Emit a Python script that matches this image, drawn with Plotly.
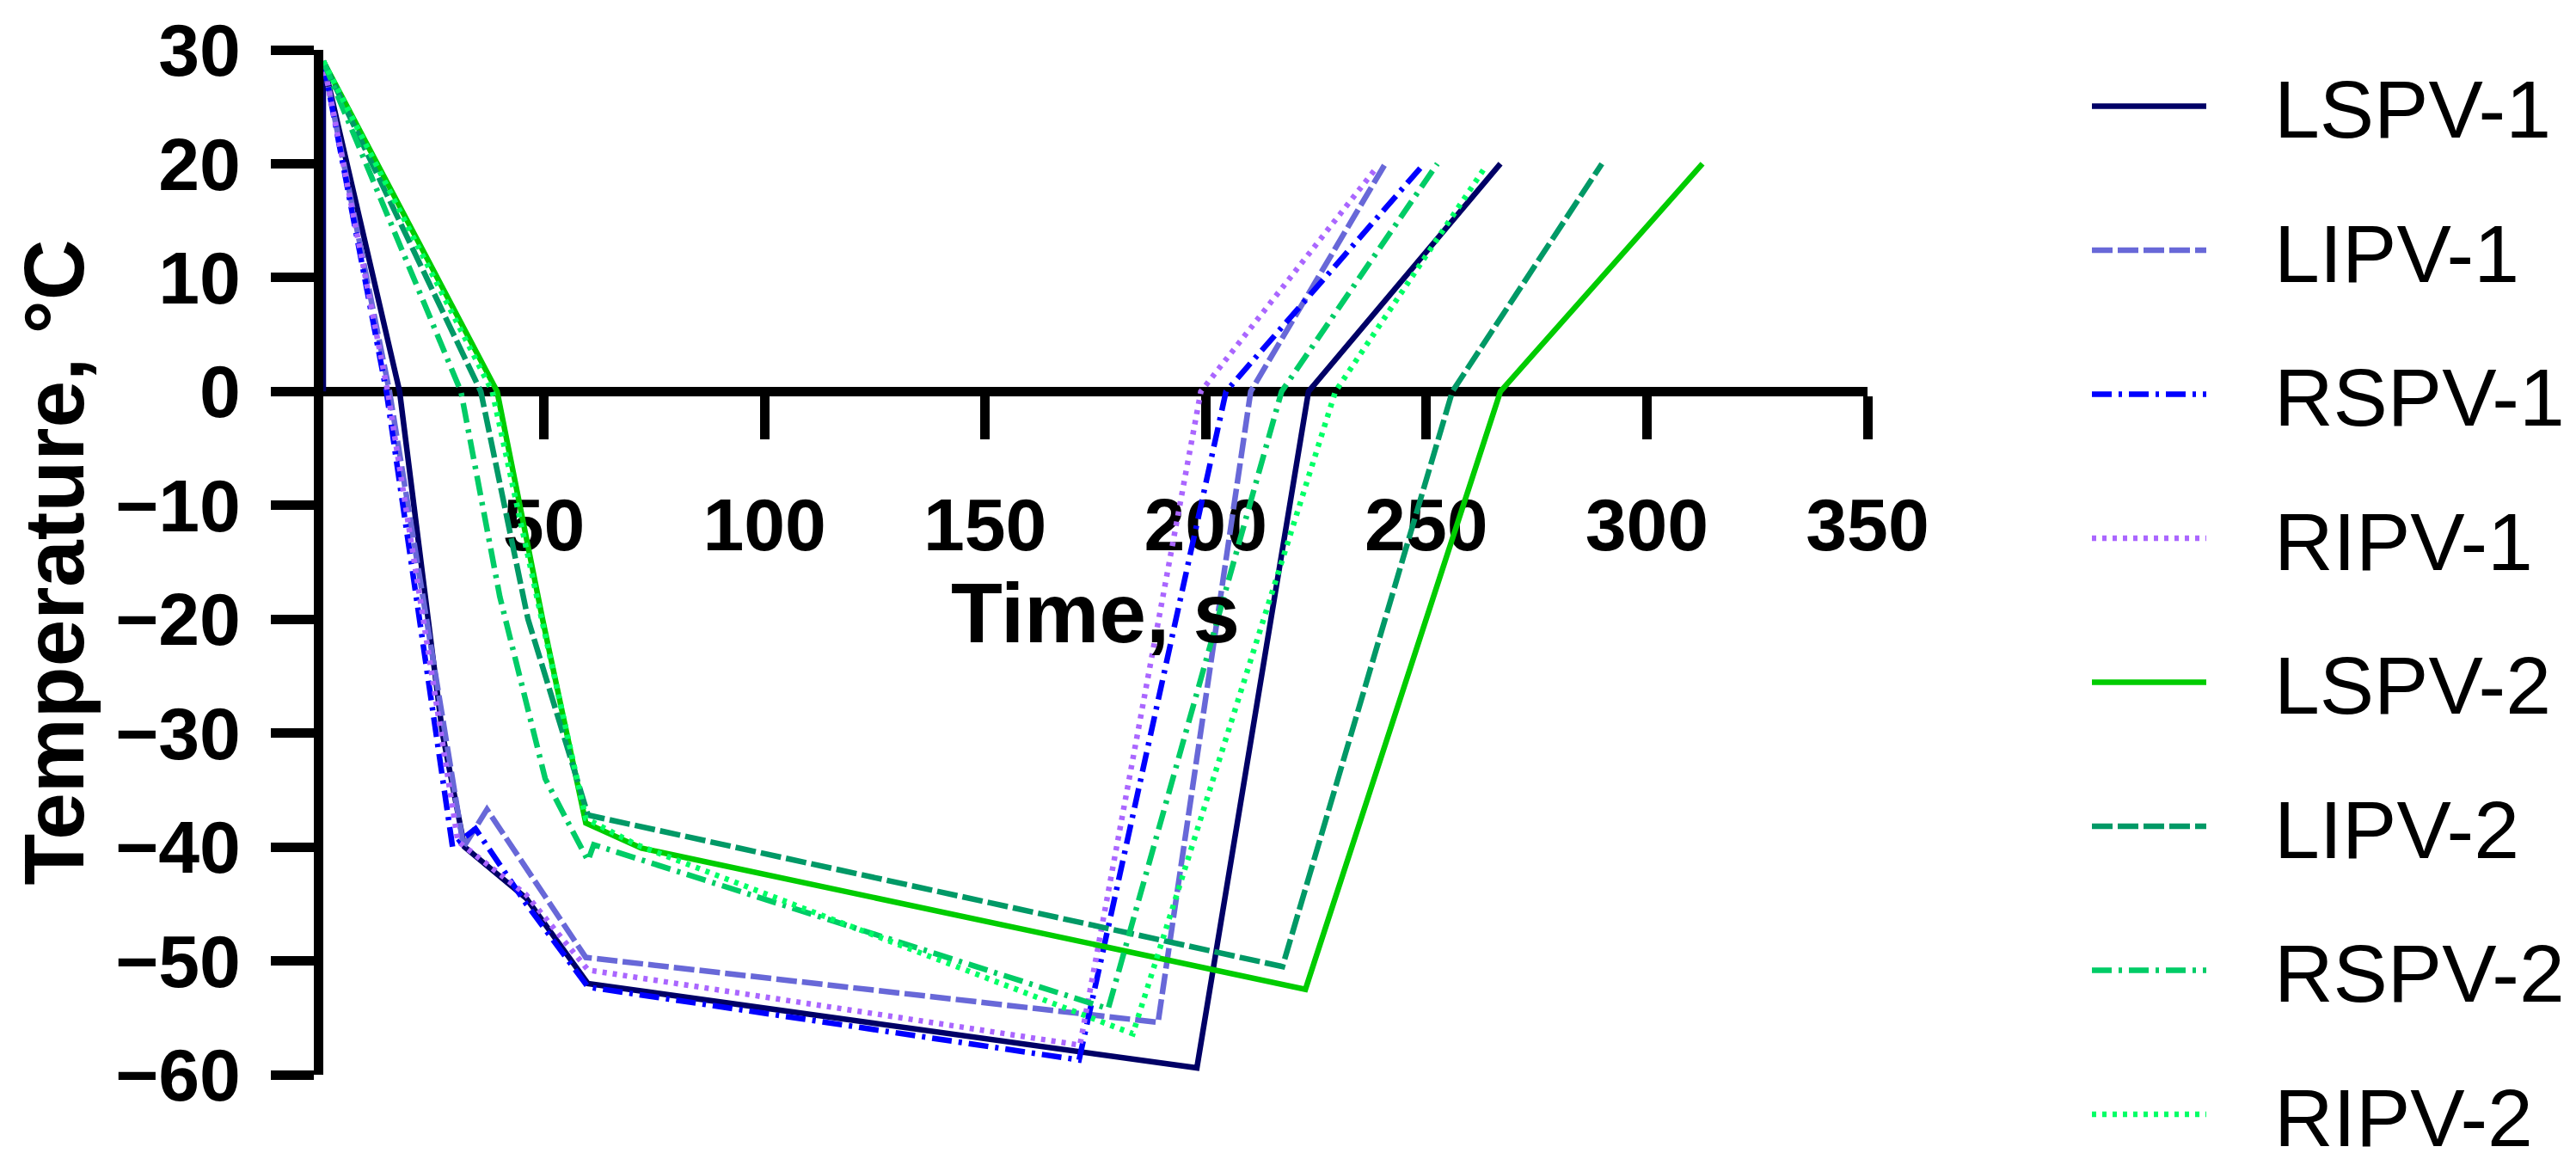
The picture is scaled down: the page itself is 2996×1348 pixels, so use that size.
import plotly.graph_objects as go

# Temperature curves (time in s, temperature in °C)
lspv1_t = [0, 0, 17.3, 27, 32, 46, 60, 198, 223.3, 266.8]
lspv1_T = [0, 29, 0, -30, -40, -44.5, -52, -59.4, 0, 20]

lipv1_t = [0, 15, 31.8, 37.1, 59.5, 189.2, 210.2, 240.7]
lipv1_T = [29, 0, -40, -36.7, -49.7, -55.4, 0, 20]

rspv1_t = [0, 14.3, 29.3, 34.5, 46, 60, 171.3, 204.6, 249.5]
rspv1_T = [29, 0, -40, -38.4, -45, -52.3, -58.7, 0, 20]

ripv1_t = [0, 14.6, 30.5, 46, 60, 171.5, 198.9, 238.6]
ripv1_T = [29, 0, -39.5, -44.2, -50.8, -57.4, 0, 19.6]

lspv2_t = [0, 39.4, 49.7, 59.5, 72.1, 222.6, 266.8, 312.6]
lspv2_T = [29, 0, -20, -37.9, -40.1, -52.5, 0, 20]

lipv2_t = [0, 35.7, 46.4, 60, 217.4, 255.9, 289.8]
lipv2_T = [29, 0, -20, -37.2, -50.5, 0, 20]

rspv2_t = [0, 31.2, 40, 50.3, 60, 61.3, 177.9, 217.2, 252.5]
rspv2_T = [29, 0, -18, -34, -41.2, -39.8, -54.2, 0, 20]

ripv2_t = [0, 38.3, 49.5, 59.5, 71, 183.5, 229.4, 263]
ripv2_T = [29, 0, -20, -37.5, -39.8, -56.4, 0, 19.5]

x_ticks = [50, 100, 150, 200, 250, 300, 350]
y_ticks = [30, 20, 10, 0, -10, -20, -30, -40, -50, -60]
X_MIN, X_MAX = 0, 350
Y_MIN, Y_MAX = -60, 30

DASH = "24px,6px"
DASHDOT = "23px,8px,4px,8px"
DOT = "5px,7px"

series = [
    ("LSPV-1", lspv1_t, lspv1_T, "#000066", "solid"),
    ("LIPV-1", lipv1_t, lipv1_T, "#6868d8", DASH),
    ("RSPV-1", rspv1_t, rspv1_T, "#0000ff", DASHDOT),
    ("RIPV-1", ripv1_t, ripv1_T, "#aa66ff", DOT),
    ("LSPV-2", lspv2_t, lspv2_T, "#00cc00", "solid"),
    ("LIPV-2", lipv2_t, lipv2_T, "#009966", DASH),
    ("RSPV-2", rspv2_t, rspv2_T, "#00cc66", DASHDOT),
    ("RIPV-2", ripv2_t, ripv2_T, "#00ff66", DOT),
]

FONT = "Liberation Sans, Arial, sans-serif"
# gap between legend line sample and its label
LEGEND_PAD = "\u2002\u00a0"

fig = go.Figure()
for name, t, temp, color, dash in series:
    fig.add_trace(
        go.Scatter(
            x=t,
            y=temp,
            mode="lines",
            name=LEGEND_PAD + name,
            legendgroup=name,
            line=dict(color=color, width=6.5, dash=dash),
        )
    )

axis_style = dict(
    showline=True,
    linewidth=11,
    linecolor="black",
    ticks="outside",
    ticklen=50,
    tickwidth=11,
    tickcolor="black",
    showgrid=False,
    zeroline=False,
    automargin=False,
    layer="below traces",
    ticklabeloverflow="allow",
    tickfont=dict(family=FONT, size=86, color="black", weight="bold"),
)

fig.update_layout(
    width=2996,
    height=1348,
    margin=dict(l=368, r=832, t=50, b=106),
    plot_bgcolor="white",
    paper_bgcolor="white",
    xaxis=dict(
        range=[X_MIN, X_MAX],
        tickvals=x_ticks,
        anchor="free",
        # x axis crosses the y axis at 0 °C
        position=(0 - Y_MIN) / (Y_MAX - Y_MIN),
        ticklabelstandoff=25,
        title=dict(
            text="Time, s",
            font=dict(family=FONT, size=98, color="black", weight="bold"),
            standoff=12,
        ),
        **axis_style,
    ),
    yaxis=dict(
        range=[Y_MIN, Y_MAX],
        tickvals=y_ticks,
        ticklabelstandoff=18,
        title=dict(
            text="Temperature, °C",
            font=dict(family=FONT, size=98, color="black", weight="bold"),
            standoff=25,
        ),
        **axis_style,
    ),
    legend=dict(
        xref="container",
        yref="container",
        x=2420 / 2996,
        y=0.965,
        xanchor="left",
        yanchor="top",
        itemwidth=133,
        tracegroupgap=41,
        maxheight=1400,
        font=dict(family=FONT, size=95, color="black"),
        bgcolor="rgba(0,0,0,0)",
    ),
    showlegend=True,
)

fig.write_html("out.html")
